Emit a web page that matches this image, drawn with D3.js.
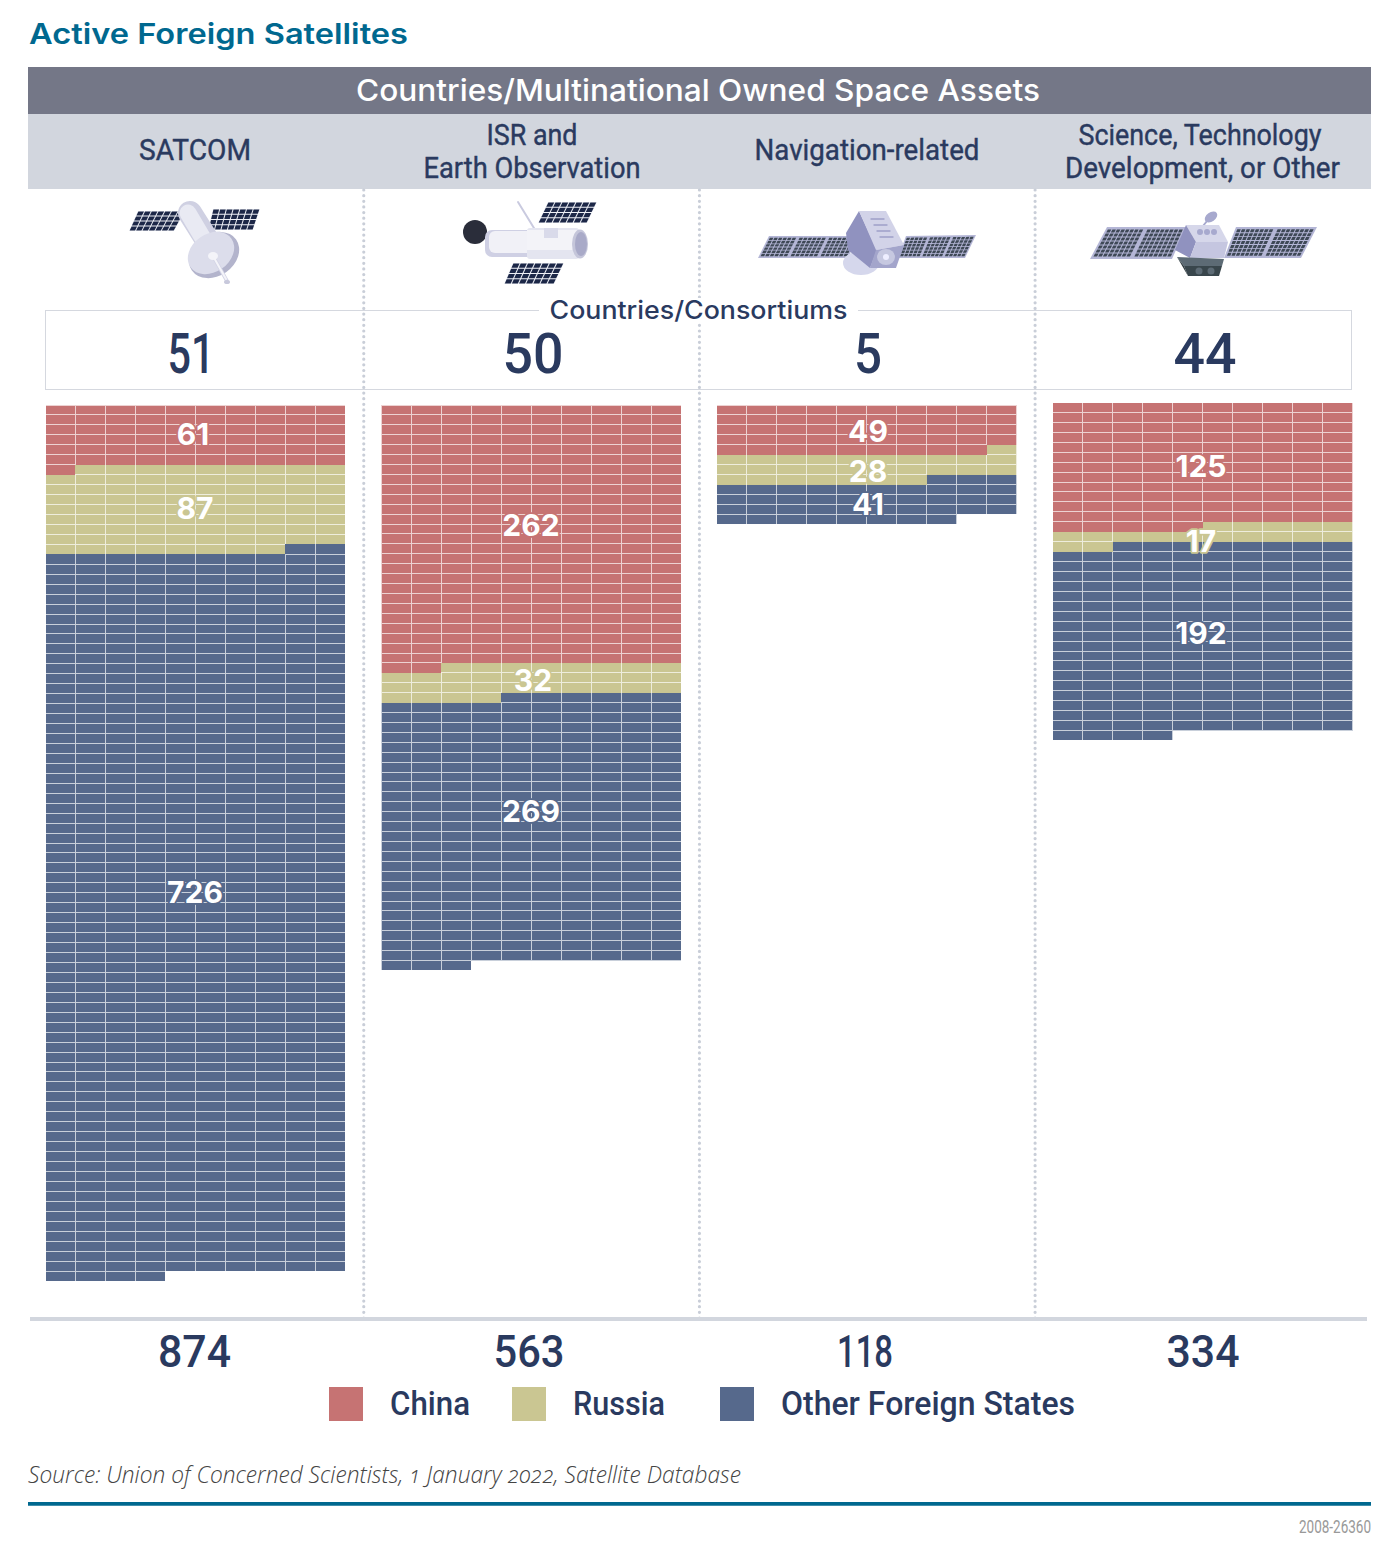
<!DOCTYPE html>
<html>
<head>
<meta charset="utf-8">
<script src="https://cdnjs.cloudflare.com/ajax/libs/d3/7.8.5/d3.min.js"></script>
<style>
  html, body { margin: 0; padding: 0; background: #fff; }
  svg { display: block; }
</style>
</head>
<body>
<div id="chart"></div>
<script>
// values
var categories = ["SATCOM", "ISR and Earth Observation", "Navigation-related", "Science, Technology Development, or Other"];
var headerLines = [["SATCOM"], ["ISR and", "Earth Observation"], ["Navigation-related"], ["Science, Technology", "Development, or Other"]];
var seriesNames = ["China", "Russia", "Other Foreign States"];
var china = [61, 262, 49, 125];
var russia = [87, 32, 28, 17];
var other = [726, 269, 41, 192];
var countries = [51, 50, 5, 44];
var totals = [874, 563, 118, 334];

var width = 1398, height = 1550;
var navy = "#2a3a5f", blueTitle = "#00688f", band = "#d2d6de";
var colors = d3.scaleOrdinal().domain(seriesNames).range(["#c67373", "#cac692", "#56698c"]);

var perRow = 10;
var colX = d3.scaleBand().domain(categories).range([45.5, 1352.5]).paddingInner(35.67 / 335.67);
var cellX = d3.scaleBand().domain(d3.range(perRow)).range([0, colX.bandwidth()]);
var colTop = [405, 405, 405, 402.5];
var rowStep = [9.955, 9.92, 9.94, 9.94];

var svg = d3.select("#chart").append("svg").attr("width", width).attr("height", height);

// text helper, len squeezes the text to the width the original font has
function txt(parent, str, x, y, size, o) {
    o = o || {};
    var t = parent.append("text").text(str)
        .attr("x", x).attr("y", y)
        .attr("font-family", o.family || "Roboto")
        .attr("font-size", size)
        .attr("font-weight", o.weight || 400)
        .attr("font-style", o.style || "normal")
        .attr("text-anchor", o.anchor || "middle")
        .attr("fill", o.fill || navy);
    if (o.len) t.attr("textLength", o.len).attr("lengthAdjust", "spacingAndGlyphs");
    return t;
}

txt(svg, "Active Foreign Satellites", 29, 44, 28.5, {family: "Inter", weight: 600, anchor: "start", fill: blueTitle, len: 379});

// header bands
svg.append("rect").attr("x", 28).attr("y", 67).attr("width", 1343).attr("height", 47).attr("fill", "#747787");
svg.append("rect").attr("x", 28).attr("y", 114).attr("width", 1343).attr("height", 75).attr("fill", band);
txt(svg, "Countries/Multinational Owned Space Assets", 698, 101, 30, {family: "Inter", weight: 500, fill: "#fff", len: 684});

var headerCx = [195, 532, 867, 1200];
var headerLen = [[112], [91, 217], [225], [243, 275]];
headerLines.forEach(function(lines, i) {
    lines.forEach(function(s, j) {
        var y = lines.length == 1 ? 160 : 144.5 + j * 33;
        txt(svg, s, i == 3 && j == 1 ? 1202.5 : headerCx[i], y, 29, {weight: 400, len: headerLen[i][j]})
            .attr("stroke", navy).attr("stroke-width", 0.4);
    });
});

// countries box
svg.append("rect").attr("x", 45.5).attr("y", 310.5).attr("width", 1306).attr("height", 79)
    .attr("fill", "none").attr("stroke", "#d5d8df").attr("stroke-width", 1);

// dotted column separators
categories.slice(1).forEach(function(c) {
    var x = colX(c) - 17.4;
    svg.append("line").attr("x1", x).attr("x2", x).attr("y1", 190).attr("y2", 1318)
        .attr("stroke", "#c9ced8").attr("stroke-width", 3.2)
        .attr("stroke-linecap", "round").attr("stroke-dasharray", "0 5.64");
});

svg.append("rect").attr("x", 539).attr("y", 298).attr("width", 319).attr("height", 24).attr("fill", "#fff");
txt(svg, "Countries/Consortiums", 698.5, 318.5, 25, {family: "Inter", weight: 500, len: 298});

var countCx = [191, 533, 868, 1205];
var countLen = [47, 61, 28, 63];
countries.forEach(function(d, i) {
    txt(svg, d, countCx[i], 373, 55, {weight: 500, len: countLen[i]});
});

// icons --------------------------------------------------------------
var icons = svg.append("g");

function poly(pts, fill) {
    return icons.append("polygon").attr("points", pts.join(" ")).attr("fill", fill);
}
// a,b,c,d = corners clockwise from lower left, groups = sections along the panel
function panel(a, b, c, d, groups, cols, rows, frame, cell, pad, m, mv) {
    poly([a, b, c, d], frame);
    var at = function(u, v) {
        var lo = [a[0] + (d[0] - a[0]) * u, a[1] + (d[1] - a[1]) * u];
        var hi = [b[0] + (c[0] - b[0]) * u, b[1] + (c[1] - b[1]) * u];
        return [hi[0] + (lo[0] - hi[0]) * v, hi[1] + (lo[1] - hi[1]) * v];
    };
    for (var g = 0; g < groups; g++) {
        for (var i = 0; i < cols; i++) {
            var u0 = (g + m + (1 - 2 * m) * (i + pad) / cols) / groups;
            var u1 = (g + m + (1 - 2 * m) * (i + 1 - pad) / cols) / groups;
            for (var j = 0; j < rows; j++) {
                var v0 = mv + (1 - 2 * mv) * (j + pad) / rows, v1 = mv + (1 - 2 * mv) * (j + 1 - pad) / rows;
                poly([at(u0, v1), at(u0, v0), at(u1, v0), at(u1, v1)], cell);
            }
        }
    }
}
function line(x1, y1, x2, y2, w, c) {
    icons.append("line").attr("x1", x1).attr("y1", y1).attr("x2", x2).attr("y2", y2)
        .attr("stroke", c).attr("stroke-width", w).attr("stroke-linecap", "round");
}
function ell(cx, cy, rx, ry, rot, c) {
    icons.append("ellipse").attr("cx", cx).attr("cy", cy).attr("rx", rx).attr("ry", ry)
        .attr("transform", "rotate(" + rot + " " + cx + " " + cy + ")").attr("fill", c);
}

// SATCOM
panel([129, 231], [138, 211], [185, 211], [174, 231], 1, 7, 4, "#eef0f6", "#1c2747", 0.08, 0, 0);
panel([208, 230], [213, 209], [260, 209], [253, 230], 1, 7, 4, "#eef0f6", "#1c2747", 0.08, 0, 0);
line(190, 213, 207, 240, 24, "#cfd0e2");
line(188, 213, 204, 240, 17, "#e9eaf3");
ell(214, 255, 27, 21, -35, "#b3b4cc");
ell(211, 253, 25, 19, -35, "#dcddeb");
line(213, 256, 227, 281, 3.6, "#d4d5e6");
line(213, 256, 226, 279, 2, "#f4f4f9");
ell(213, 256, 5, 4, 0, "#f4f4f9");
ell(227, 282, 3, 2, 0, "#c8c9dc");

// ISR
panel([538, 223], [548, 202], [597, 202], [587, 223], 1, 7, 4, "#eef0f6", "#1c2747", 0.08, 0, 0);
panel([504, 284], [513, 263], [564, 263], [554, 284], 1, 7, 4, "#eef0f6", "#1c2747", 0.08, 0, 0);
line(518, 202, 537, 233, 2, "#c9cadf");
icons.append("circle").attr("cx", 475).attr("cy", 232).attr("r", 12).attr("fill", "#2a2d3a");
icons.append("rect").attr("x", 485).attr("y", 230).attr("width", 60).attr("height", 27).attr("rx", 7).attr("fill", "#cfd0e4");
icons.append("rect").attr("x", 489).attr("y", 231).attr("width", 56).attr("height", 22).attr("rx", 6).attr("fill", "#f1f1f7");
icons.append("rect").attr("x", 527).attr("y", 228).attr("width", 52).attr("height", 31).attr("rx", 3).attr("fill", "#e4e5f0");
icons.append("rect").attr("x", 527).attr("y", 230).attr("width", 50).attr("height", 20).attr("fill", "#f3f3f8");
icons.append("rect").attr("x", 544).attr("y", 228).attr("width", 14).attr("height", 10).attr("fill", "#d9daea");
ell(580, 244, 8, 14.5, 0, "#c5c6da");
ell(581, 244, 6, 12, 0, "#a9aac8");

// Navigation
panel([758, 258], [769, 236], [858, 236], [848, 258], 3, 6, 6, "#b4b6d6", "#3e4856", 0.12, 0.04, 0.06);
panel([898, 258], [906, 236], [976, 235], [965, 258], 3, 5, 6, "#b4b6d6", "#3e4856", 0.12, 0.04, 0.06);
ell(861, 263, 18, 12, 0, "#d5d7ec");
poly([[859, 211], [846, 233], [848, 250], [870, 268], [877, 250]], "#9092bf");
poly([[859, 211], [886, 211], [904, 245], [876, 250]], "#d2d3e8");
poly([[876, 250], [904, 245], [896, 268], [870, 268]], "#a3a5cb");
ell(886, 257, 9, 8, 0, "#c6c8e0");
ell(886, 257, 3, 3, 0, "#eef");
[0, 1, 2, 3].forEach(function(i) { line(871 + i * 3, 219 + i * 6, 884 + i * 3, 219 + i * 6, 1.3, "#9ea0c8"); });

// Science
panel([1090, 259], [1107, 227], [1186, 227], [1172, 259], 2, 8, 7, "#b4b6d6", "#3e4856", 0.12, 0.04, 0.06);
panel([1224, 258], [1236, 227], [1317, 227], [1301, 258], 2, 8, 7, "#b4b6d6", "#3e4856", 0.12, 0.04, 0.06);
ell(1211, 217, 7, 4.5, -35, "#a7a9ce");
line(1207, 221, 1203, 226, 2, "#a7a9ce");
poly([[1186, 225], [1219, 225], [1228, 242], [1196, 242]], "#d6d7ea");
poly([[1186, 225], [1196, 242], [1190, 258], [1175, 250]], "#9092bf");
poly([[1196, 242], [1228, 242], [1224, 258], [1190, 258]], "#c5c6e0");
ell(1200, 232, 3, 3, 0, "#a7a9ce"); ell(1207, 232, 3, 3, 0, "#a7a9ce"); ell(1214, 232, 3, 3, 0, "#a7a9ce");
poly([[1177, 257], [1224, 259], [1222, 266], [1184, 266]], "#5d6b75");
poly([[1177, 257], [1184, 266], [1188, 276]], "#2f3b40");
poly([[1184, 266], [1222, 266], [1219, 276], [1188, 276]], "#39464c");
ell(1199, 271, 3.5, 3.5, 0, "#5d6b75"); ell(1211, 271, 3.5, 3.5, 0, "#5d6b75");

// waffles ------------------------------------------------------------
var seriesValues = [china, russia, other];
var labelX = [[193, 195, 195], [531, 533, 531], [868, 868, 868], [1201, 1201, 1201]];
var labelY = [[434, 508, 892], [525, 680, 811], [431, 471, 504], [466, 541, 633]];

categories.forEach(function(cat, c) {
    var g = svg.append("g").attr("transform", "translate(" + colX(cat) + "," + colTop[c] + ")");
    var rowY = d3.scaleLinear().domain([0, 1]).range([0, rowStep[c]]);

    // one entry per satellite, row by row
    var cells = [];
    seriesNames.forEach(function(name, s) {
        d3.range(seriesValues[s][c]).forEach(function() {
            var i = cells.length;
            cells.push({i: i, series: name, col: i % perRow, row: Math.floor(i / perRow)});
        });
    });

    g.selectAll("rect").data(cells).join("rect")
        .attr("x", function(d) { return cellX(d.col); })
        .attr("y", function(d) { return rowY(d.row); })
        .attr("width", cellX.bandwidth())
        .attr("height", rowY(1))
        .attr("fill", function(d) { return colors(d.series); })
        .attr("shape-rendering", "crispEdges");

    // grid lines stay inside a series, no line where two series meet
    var same = function(j, d) { return !cells[j] || cells[j].series == d.series; };
    seriesNames.forEach(function(name) {
        var p = d3.path();
        cells.filter(function(d) { return d.series == name; }).forEach(function(d) {
            var x0 = cellX(d.col), x1 = x0 + cellX.bandwidth(), y0 = rowY(d.row), y1 = y0 + rowY(1);
            if (d.row == 0) { p.moveTo(x0, y0); p.lineTo(x1, y0); }
            if (d.col == 0) { p.moveTo(x0, y0); p.lineTo(x0, y1); }
            if (d.col == perRow - 1 || same(d.i + 1, d)) { p.moveTo(x1, y0); p.lineTo(x1, y1); }
            if (same(d.i + perRow, d)) { p.moveTo(x0, y1); p.lineTo(x1, y1); }
        });
        g.append("path").attr("d", p.toString()).attr("fill", "none")
            .attr("stroke", "#fff").attr("stroke-opacity", 0.68).attr("stroke-width", 1)
            .attr("shape-rendering", "crispEdges");
    });

    seriesNames.forEach(function(name, s) {
        txt(svg, seriesValues[s][c], labelX[c][s], labelY[c][s] + 11, 30, {family: "Inter", weight: 700, fill: "#fff"})
            .attr("stroke", colors(name)).attr("stroke-width", 3.5).attr("paint-order", "stroke")
            .attr("stroke-linejoin", "round");
    });
});

// baseline and totals
svg.append("line").attr("x1", 30).attr("x2", 1367).attr("y1", 1319).attr("y2", 1319)
    .attr("stroke", band).attr("stroke-width", 4);

var totalCx = [194.5, 529, 865, 1203];
var totalLen = [73, 71, 56, 73];
totals.forEach(function(d, i) {
    txt(svg, d, totalCx[i], 1367, 44, {weight: 500, len: totalLen[i]});
});

// legend
var swatchX = [329, 512, 720];
var legendLen = [80, 92, 294];
seriesNames.forEach(function(name, s) {
    svg.append("rect").attr("x", swatchX[s]).attr("y", 1387).attr("width", 34).attr("height", 34).attr("fill", colors(name));
    txt(svg, name, swatchX[s] + 61, 1415, 33, {weight: 500, anchor: "start", len: legendLen[s]});
});

// footer
txt(svg, "Source: Union of Concerned Scientists, 1 January 2022, Satellite Database", 28, 1483, 24,
    {family: "Open Sans", weight: 300, style: "italic", anchor: "start", fill: "#444", len: 713})
    .style("font-feature-settings", "'onum'");
svg.append("line").attr("x1", 28).attr("x2", 1371).attr("y1", 1503.8).attr("y2", 1503.8)
    .attr("stroke", blueTitle).attr("stroke-width", 3.8);
txt(svg, "2008-26360", 1371, 1533, 18, {anchor: "end", fill: "#999", len: 72});
</script>
</body>
</html>
